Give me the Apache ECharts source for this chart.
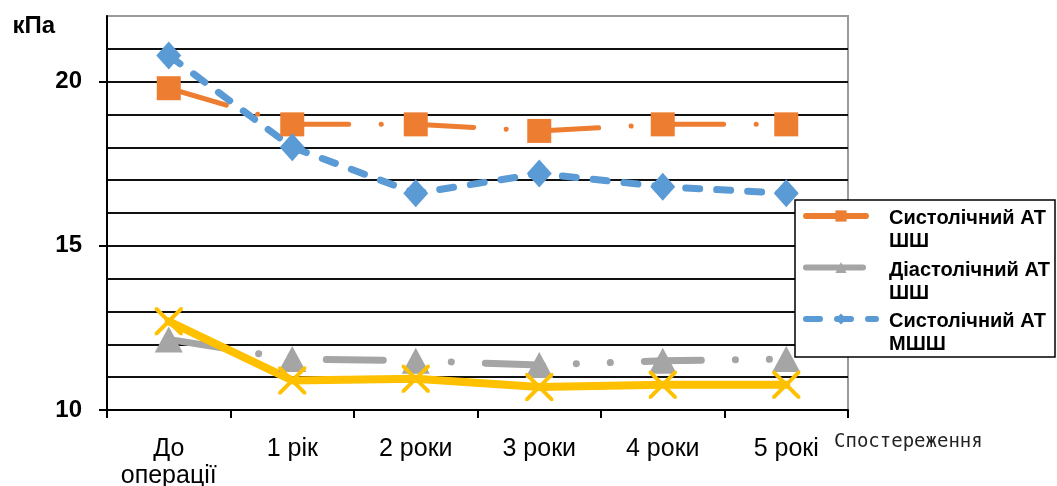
<!DOCTYPE html>
<html>
<head>
<meta charset="utf-8">
<script src="https://cdn.jsdelivr.net/npm/echarts@6/dist/echarts.min.js"></script>
<style>
  html, body { margin: 0; padding: 0; background: #fff; }
  #chart { width: 1057px; height: 486px; }
</style>
</head>
<body>
<div id="chart"></div>
<script>
// Observation periods (x axis) and their tick labels
const categories = ['До операції', '1 рік', '2 роки', '3 роки', '4 роки', '5 років'];
const tickLabels = ['До\nоперації', '1 рік', '2 роки', '3 роки', '4 роки', '5 рокі'];

// Blood pressure, kPa
const systolicSH  = [19.8, 18.7, 18.7, 18.5, 18.7, 18.7];
const diastolicSH = [12.15, 11.55, 11.5, 11.37, 11.5, 11.55];
const systolicMSH = [20.8, 18.0, 16.6, 17.2, 16.8, 16.6];
const diastolicMSH = [12.7, 10.9, 10.95, 10.7, 10.77, 10.77];

const seriesNames = [
  'Систолічний АТ\nШШ',
  'Діастолічний АТ\nШШ',
  'Систолічний АТ\nМШШ',
  'Діастолічний АТ\nМШШ'
];

const yLabels = [10, 15, 20];

// thin "x" marker outline
const crossPath = 'path://M0,0L2,0L10,8L18,0L20,0L20,2L12,10L20,18L20,20L18,20L10,12L2,20L0,20L0,18L8,10L0,2Z';

const chart = echarts.init(document.getElementById('chart'), null, { renderer: 'canvas' });

// gridlines: dark, except the top edge which is grey like the frame
const splitColors = [];
for (let i = 0; i < 12; i++) splitColors.push('#111');
splitColors.push('#9a9a9a');

const baseFont = 'Liberation Sans';

chart.setOption({
  animation: false,
  backgroundColor: '#fff',
  grid: {
    left: 107, right: 209, top: 16, bottom: 76,
    containLabel: false,
    outerBoundsMode: 'none',
    show: true, borderColor: '#9a9a9a', borderWidth: 2, backgroundColor: 'transparent'
  },
  xAxis: {
    type: 'category',
    data: categories,
    boundaryGap: true,
    name: 'Спостереження',
    nameLocation: 'end',
    nameGap: -14,
    nameTextStyle: {
      fontFamily: 'DejaVu Sans Mono', fontSize: 19, color: '#222',
      align: 'left', verticalAlign: 'top', padding: [23, 0, 0, 0]
    },
    axisLine: { lineStyle: { color: '#000', width: 2 } },
    axisTick: { show: true, interval: 0, length: 8, lineStyle: { color: '#000', width: 2 } },
    axisLabel: {
      interval: 0,
      hideOverlap: false,
      margin: 26,
      fontFamily: baseFont, fontSize: 25, color: '#000', lineHeight: 27,
      formatter: (v, i) => tickLabels[i]
    },
    splitLine: { show: false }
  },
  yAxis: [
    {
      type: 'value',
      min: 10, max: 22, interval: 1,
      name: 'кПа',
      nameLocation: 'end',
      nameGap: -22,
      nameTextStyle: {
        fontFamily: baseFont, fontSize: 24, fontWeight: 'bold', color: '#000',
        align: 'right', padding: [0, 52, 0, 0]
      },
      axisLine: { show: true, lineStyle: { color: '#000', width: 2 } },
      axisTick: { show: true, length: 8, customValues: yLabels, lineStyle: { color: '#000', width: 2 } },
      axisLabel: {
        customValues: yLabels,
        margin: 25,
        padding: [6, 0, 0, 0],
        fontFamily: baseFont, fontSize: 24, fontWeight: 'bold', color: '#000'
      },
      splitLine: { show: false },
      z: 3
    },
    {
      // gridlines at every 1 kPa
      type: 'value',
      position: 'left',
      min: 10, max: 22, interval: 1,
      axisLine: { show: false },
      axisTick: { show: false },
      axisLabel: { show: false },
      splitLine: { show: true, lineStyle: { color: splitColors, width: 2 } }
    }
  ],
  legend: {
    data: seriesNames.slice(0, 3),
    orient: 'vertical',
    left: 803, top: 188,
    padding: 0,
    itemWidth: 70, itemHeight: 14,
    itemGap: -12,
    lineStyle: { width: 6 },
    formatter: name => '{s| }\n' + name.split('\n').map(t => '{a|' + t + '}').join('\n'),
    textStyle: {
      color: '#000',
      rich: {
        s: { fontSize: 10, lineHeight: 28, padding: [0, 0, 0, 8] },
        a: {
          fontFamily: baseFont, fontSize: 20, fontWeight: 'bold', color: '#000',
          lineHeight: 23, padding: [0, 0, 0, 8]
        }
      }
    },
    z: 10
  },
  graphic: [{
    type: 'rect',
    z: 5,
    shape: { x: 795, y: 200, width: 260, height: 157 },
    style: { fill: '#fff', stroke: '#000', lineWidth: 1.5 }
  }],
  series: [
    {
      name: seriesNames[0], type: 'line', data: systolicSH,
      symbol: 'rect', symbolSize: 24,
      itemStyle: { color: '#ED7D31' },
      lineStyle: { color: '#ED7D31', width: 5, type: [60, 32.5, 0.1, 32.5], cap: 'round' },
      z: 2
    },
    {
      name: seriesNames[1], type: 'line', data: diastolicSH,
      symbol: 'triangle', symbolSize: [28, 26],
      itemStyle: { color: '#A5A5A5' },
      lineStyle: { color: '#A5A5A5', width: 7, type: [57, 34, 0.1, 33.9, 0.1, 34], cap: 'round' },
      z: 2
    },
    {
      name: seriesNames[2], type: 'line', data: systolicMSH,
      symbol: 'diamond', symbolSize: [25, 28],
      itemStyle: { color: '#5B9BD5' },
      lineStyle: { color: '#5B9BD5', width: 7, type: [14, 17], cap: 'round' },
      z: 2
    },
    {
      name: seriesNames[3], type: 'line', data: diastolicMSH,
      symbol: crossPath, symbolSize: 28,
      itemStyle: { color: '#FFC000' },
      lineStyle: { color: '#FFC000', width: 8, cap: 'round', join: 'round' },
      z: 2
    }
  ]
});
</script>
</body>
</html>
